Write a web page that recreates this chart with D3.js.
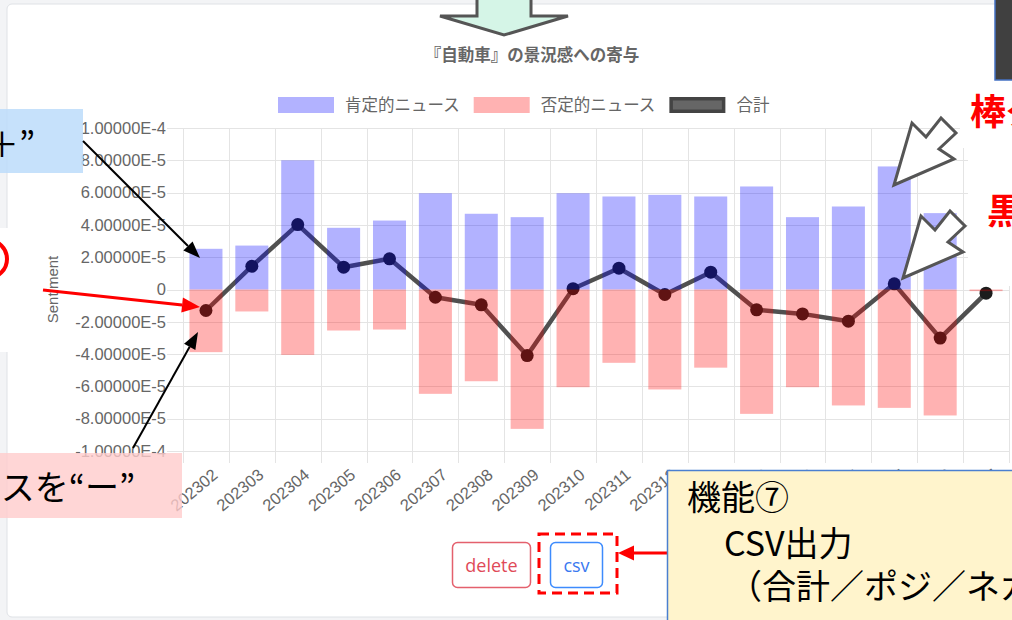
<!DOCTYPE html>
<html>
<head>
<meta charset="utf-8">
<script src="https://cdn.jsdelivr.net/npm/d3@7"></script>
<style>
  html, body { margin: 0; padding: 0; background: #f3f4f6; }
  svg { display: block; }
</style>
</head>
<body>
<svg id="chart" width="1012" height="620"></svg>
<script>
// monthly sentiment contribution (values in units of 1E-5)
var categories = ["202302","202303","202304","202305","202306","202307","202308","202309",
  "202310","202311","202312","202401","202402","202403","202404","202405","202406","202407"];
var positive = [2.52, 2.72, 8.00, 3.82, 4.27, 5.96, 4.69, 4.48, 5.96, 5.76, 5.86, 5.76, 6.38, 4.48, 5.14, 7.62, 4.73, 0];
var negative = [-3.88, -1.36, -4.05, -2.54, -2.48, -6.46, -5.68, -8.63, -6.05, -4.54, -6.19, -4.84, -7.70, -6.05, -7.18, -7.33, -7.80, -0.10];
var total = [-1.30, 1.44, 4.02, 1.38, 1.90, -0.48, -0.95, -4.09, 0.05, 1.32, -0.31, 1.07, -1.26, -1.51, -1.96, 0.35, -3.01, -0.23];
var unit = 1e-5;
var yTicks = [-10, -8, -6, -4, -2, 0, 2, 4, 6, 8, 10];
var legendLabels = ["肯定的ニュース", "否定的ニュース", "合計"];
var chartTitle = "『自動車』の景況感への寄与";

var font = "'Liberation Sans', 'Noto Sans CJK JP', sans-serif";
var jp = "'Noto Sans CJK JP', sans-serif";
var svg = d3.select("#chart");

// card
svg.append("rect")
  .attr("x", 7).attr("y", 4).attr("width", 1040).attr("height", 613).attr("rx", 5)
  .attr("fill", "#fff").attr("stroke", "#dfe2e6");

var plot = {left: 183, right: 1009, top: 128, bottom: 451};

var x = d3.scaleBand()
  .domain(categories)
  .range([plot.left, plot.right])
  .paddingInner(0.28)
  .paddingOuter(0.14);
var step = x.step();
var cx = function(d, i) { return x(categories[i]) + x.bandwidth() / 2; };

var y = d3.scaleLinear()
  .domain([-10 * unit, 10 * unit])
  .range([plot.bottom, plot.top]);

// grid
var grid = svg.append("g").attr("stroke", "#e4e4e4").attr("stroke-width", 1);
grid.selectAll("line.v")
  .data(d3.range(categories.length + 1))
  .enter().append("line")
  .attr("x1", function(k) { return Math.round(plot.left + k * step) + 0.5; })
  .attr("x2", function(k) { return Math.round(plot.left + k * step) + 0.5; })
  .attr("y1", plot.top).attr("y2", plot.bottom + 12);
grid.selectAll("line.h")
  .data(yTicks)
  .enter().append("line")
  .attr("x1", plot.left - 16).attr("x2", plot.right)
  .attr("y1", function(d) { return Math.round(y(d * unit)) + 0.5; })
  .attr("y2", function(d) { return Math.round(y(d * unit)) + 0.5; });

// y axis labels
var yAxis = svg.append("g")
  .attr("transform", "translate(" + plot.left + ",0)")
  .call(d3.axisLeft(y)
    .tickValues(yTicks.map(function(d) { return d * unit; }))
    .tickFormat(function(d) { return Math.abs(d) < 1e-12 ? "0" : d.toExponential(5).toUpperCase(); })
    .tickSize(0)
    .tickPadding(17));
yAxis.select(".domain").remove();
yAxis.selectAll("text")
  .style("font-family", font).style("font-size", "16.5px").attr("fill", "#666");

svg.append("text")
  .attr("transform", "translate(52," + y(0) + ") rotate(-90)")
  .attr("text-anchor", "middle").attr("dominant-baseline", "central")
  .style("font-family", font).style("font-size", "15px").attr("fill", "#666")
  .text("Sentiment");

// x axis labels
svg.append("g").selectAll("text")
  .data(categories)
  .enter().append("text")
  .attr("transform", function(d, i) { return "translate(" + (cx(d, i) + 9) + "," + (plot.bottom + 21) + ") rotate(-40)"; })
  .attr("text-anchor", "end").attr("dominant-baseline", "central")
  .style("font-family", font).style("font-size", "16.5px").attr("fill", "#666")
  .text(function(d) { return d; });

// total line, drawn under the bars
var line = d3.line()
  .x(cx)
  .y(function(d) { return y(d * unit); });
svg.append("path")
  .datum(total)
  .attr("d", line)
  .attr("fill", "none").attr("stroke", "#505050").attr("stroke-width", 4.5)
  .attr("stroke-linejoin", "round");
svg.append("g").selectAll("circle")
  .data(total)
  .enter().append("circle")
  .attr("cx", cx)
  .attr("cy", function(d) { return y(d * unit); })
  .attr("r", 6.5)
  .attr("fill", "#1c1c1c");

// bars
svg.append("g").selectAll("rect")
  .data(positive)
  .enter().append("rect")
  .attr("x", function(d, i) { return x(categories[i]); })
  .attr("width", x.bandwidth())
  .attr("y", function(d) { return y(d * unit); })
  .attr("height", function(d) { return y(0) - y(d * unit); })
  .attr("fill", "rgba(0,0,255,0.3)");
svg.append("g").selectAll("rect")
  .data(negative)
  .enter().append("rect")
  .attr("x", function(d, i) { return x(categories[i]); })
  .attr("width", x.bandwidth())
  .attr("y", y(0))
  .attr("height", function(d) { return y(d * unit) - y(0); })
  .attr("fill", "rgba(255,0,0,0.3)");

// title
svg.append("text")
  .attr("x", 532).attr("y", 61)
  .attr("text-anchor", "middle")
  .style("font-family", font).style("font-size", "16.5px").style("font-weight", "bold").attr("fill", "#666")
  .text(chartTitle);

// legend
var legendFill = ["rgba(0,0,255,0.3)", "rgba(255,0,0,0.3)", "#666"];
var legendStroke = ["none", "none", "#444"];
var lx = 278;
legendLabels.forEach(function(lab, i) {
  svg.append("rect")
    .attr("x", lx + (i == 2 ? 1.75 : 0)).attr("y", 97 + (i == 2 ? 1.75 : 0))
    .attr("width", 56 - (i == 2 ? 3.5 : 0)).attr("height", 16 - (i == 2 ? 3.5 : 0))
    .attr("fill", legendFill[i]).attr("stroke", legendStroke[i]).attr("stroke-width", 3.5);
  var t = svg.append("text")
    .attr("x", lx + 67).attr("y", 105)
    .attr("dominant-baseline", "central")
    .style("font-family", font).style("font-size", "16.5px").attr("fill", "#666")
    .text(lab);
  lx = lx + 67 + t.node().getComputedTextLength() + 14;
});

// buttons
svg.append("rect").attr("x", 452.5).attr("y", 542.5).attr("width", 78).attr("height", 45).attr("rx", 5)
  .attr("fill", "#fff").attr("stroke", "#e4606d").attr("stroke-width", 1.5);
svg.append("text").attr("x", 491.5).attr("y", 565).attr("text-anchor", "middle").attr("dominant-baseline", "central")
  .style("font-family", "'Open Sans', sans-serif").style("font-size", "18px").attr("fill", "#e04a58").text("delete");
svg.append("rect").attr("x", 550.5).attr("y", 542.5).attr("width", 52).attr("height", 45).attr("rx", 5)
  .attr("fill", "#fff").attr("stroke", "#3d8bfd").attr("stroke-width", 1.5);
svg.append("text").attr("x", 576.5).attr("y", 565).attr("text-anchor", "middle").attr("dominant-baseline", "central")
  .style("font-family", "'Open Sans', sans-serif").style("font-size", "18px").attr("fill", "#3a78f0").text("csv");

// ---- overlay annotations ----
function arrow(x1, y1, x2, y2, color, w, hl, hw) {
  var a = Math.atan2(y2 - y1, x2 - x1);
  var bx = x2 - hl * Math.cos(a), by = y2 - hl * Math.sin(a);
  svg.append("line").attr("x1", x1).attr("y1", y1).attr("x2", bx).attr("y2", by)
    .attr("stroke", color).attr("stroke-width", w);
  var px = -Math.sin(a) * hw / 2, py = Math.cos(a) * hw / 2;
  svg.append("path")
    .attr("d", "M" + x2 + "," + y2 + "L" + (bx + px) + "," + (by + py) + "L" + (bx - px) + "," + (by - py) + "Z")
    .attr("fill", color);
}

// green down arrow at top
svg.append("path")
  .attr("d", "M477,-4L531,-4L531,16L568,16L504,35L440,16L477,16Z")
  .attr("fill", "#d5f5e7").attr("stroke", "#555").attr("stroke-width", 3).attr("stroke-linejoin", "miter");

// dark box top right
svg.append("rect").attr("x", 995).attr("y", -5).attr("width", 30).attr("height", 85)
  .attr("fill", "#404040").attr("stroke", "#4472c4").attr("stroke-width", 1.5);

// white text boxes on the right
svg.append("rect").attr("x", 960).attr("y", 84).attr("width", 60).attr("height", 64).attr("fill", "#fff");
svg.append("rect").attr("x", 968).attr("y", 148).attr("width", 50).attr("height", 138).attr("fill", "#fff");
svg.append("text").attr("x", 970).attr("y", 125)
  .style("font-family", jp).style("font-size", "36px").style("font-weight", "bold").attr("fill", "#ff0000")
  .text("棒グラフ");
svg.append("text").attr("x", 987).attr("y", 224)
  .style("font-family", jp).style("font-size", "35px").style("font-weight", "bold").attr("fill", "#ff0000")
  .text("黒丸");

// outlined arrows pointing at bar and point
var blockArrow = [[0, 0], [18, -62], [32, -48], [47, -67], [62, -52], [45, -36], [60, -26]];
[[894, 185], [903, 278]].forEach(function(t) {
  svg.append("path")
    .attr("d", "M" + blockArrow.map(function(p) { return (t[0] + p[0]) + "," + (t[1] + p[1]); }).join("L") + "Z")
    .attr("fill", "#fff").attr("stroke", "#555").attr("stroke-width", 3).attr("stroke-linejoin", "miter");
});

// left: blue note
svg.append("rect").attr("x", -2).attr("y", 109).attr("width", 85).attr("height", 64)
  .attr("fill", "#bcdcfa").attr("opacity", 0.85);
svg.append("text").attr("x", 35).attr("y", 157).attr("text-anchor", "end")
  .style("font-family", jp).style("font-size", "34px").attr("fill", "#000")
  .text("肯定的ニュースを“＋”");
arrow(83, 141, 200, 258, "#000", 2, 17, 13);

// left: white note with red circled number
svg.append("rect").attr("x", 0).attr("y", 228).attr("width", 30).attr("height", 124).attr("fill", "#fff");
svg.append("circle").attr("cx", -12).attr("cy", 259).attr("r", 19)
  .attr("fill", "none").attr("stroke", "#ff0000").attr("stroke-width", 4);
arrow(43, 290, 200, 307, "#ff0000", 3, 18, 15);

// left: pink note
svg.append("rect").attr("x", -2).attr("y", 453).attr("width", 184).attr("height", 65)
  .attr("fill", "#ffcccc").attr("opacity", 0.8);
svg.append("text").attr("x", 135).attr("y", 500).attr("text-anchor", "end")
  .style("font-family", jp).style("font-size", "34px").attr("fill", "#000")
  .text("否定的ニュースを“ー”");
arrow(133, 448, 198, 332, "#000", 2, 17, 13);

// csv highlight
svg.append("rect").attr("x", 539).attr("y", 534).attr("width", 78).attr("height", 59)
  .attr("fill", "none").attr("stroke", "#ff0000").attr("stroke-width", 3).attr("stroke-dasharray", "10,6");
arrow(668, 553, 618, 553, "#ff0000", 3, 16, 15);

// yellow function note
svg.append("rect").attr("x", 667.5).attr("y", 470.5).attr("width", 360).attr("height", 160)
  .attr("fill", "#fff4cc").attr("stroke", "#4a7fd0").attr("stroke-width", 1.5);
var noteLines = [["機能⑦", 687, 510], ["CSV出力", 724, 556], ["（合計／ポジ／ネガ）", 728, 599]];
noteLines.forEach(function(l) {
  svg.append("text").attr("x", l[1]).attr("y", l[2])
    .style("font-family", jp).style("font-size", "34px").attr("fill", "#000")
    .text(l[0]);
});
</script>
</body>
</html>
